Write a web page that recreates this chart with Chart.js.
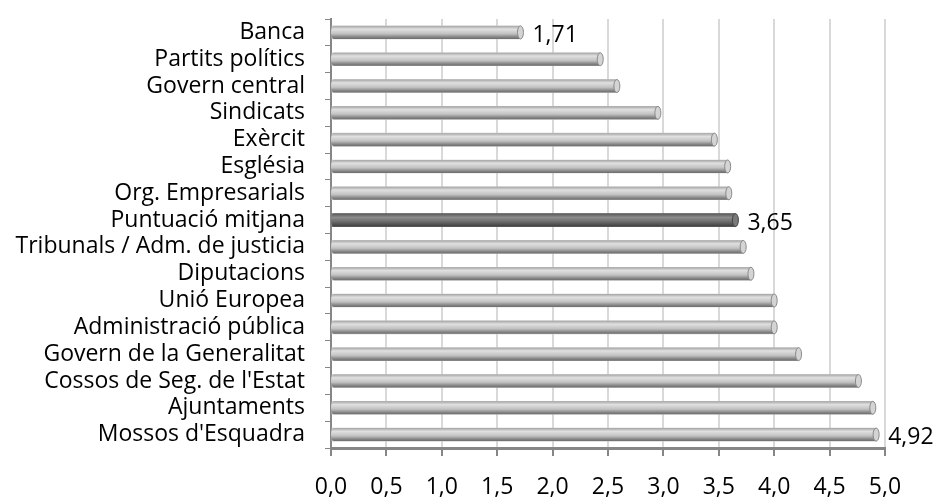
<!DOCTYPE html>
<html>
<head>
    <meta charset="UTF-8" />
    <script src="https://cdn.jsdelivr.net/npm/chart.js@4.4.0/dist/chart.umd.min.js"></script>
    <style>
        html, body { margin: 0; padding: 0; background: #fff; }
        #wrap { width: 937px; height: 498px; }
    </style>
</head>
<body>
    <div id="wrap"><canvas id="chart"></canvas></div>

    <script>
        // categories, top to bottom
        const categories = [
            'Banca', 'Partits polítics', 'Govern central', 'Sindicats', 'Exèrcit',
            'Església', 'Org. Empresarials', 'Puntuació mitjana', 'Tribunals / Adm. de justicia',
            'Diputacions', 'Unió Europea', 'Administració pública', 'Govern de la Generalitat',
            "Cossos de Seg. de l'Estat", 'Ajuntaments', "Mossos d'Esquadra"
        ];
        const scores = [1.71, 2.43, 2.58, 2.95, 3.46, 3.58, 3.59, 3.65, 3.72, 3.79, 4.00, 4.00, 4.22, 4.76, 4.89, 4.92];
        const labelled = ['Banca', 'Puntuació mitjana', "Mossos d'Esquadra"];
        const highlight = 'Puntuació mitjana';
        const xTicks = [0, 0.5, 1, 1.5, 2, 2.5, 3, 3.5, 4, 4.5, 5];

        const fontFamily = "'Open Sans', sans-serif";

        // cylinder look on top of the library's bar elements
        const tubes = {
            id: 'tubes',
            afterDatasetsDraw(chart) {
                const ctx = chart.ctx;
                const meta = chart.getDatasetMeta(0);
                meta.data.forEach((el, i) => {
                    const dark = categories[i] === highlight;
                    const x0 = el.base, x1 = el.x, h = el.height, top = el.y - h / 2;
                    const g = ctx.createLinearGradient(0, top, 0, top + h);
                    if (dark) {
                        g.addColorStop(0, '#5a5a5a');
                        g.addColorStop(0.3, '#8c8c8c');
                        g.addColorStop(0.6, '#6e6e6e');
                        g.addColorStop(1, '#3c3c3c');
                    } else {
                        g.addColorStop(0, '#a4a4a4');
                        g.addColorStop(0.25, '#e0e0e0');
                        g.addColorStop(0.6, '#c2c2c2');
                        g.addColorStop(0.85, '#868686');
                        g.addColorStop(1, '#6c6c6c');
                    }
                    ctx.save();
                    ctx.fillStyle = g;
                    ctx.beginPath();
                    ctx.ellipse(x0 + 2, el.y, 3, h / 2, 0, Math.PI / 2, Math.PI * 1.5);
                    ctx.lineTo(x1, top);
                    ctx.lineTo(x1, top + h);
                    ctx.closePath();
                    ctx.fill();
                    // end cap
                    ctx.beginPath();
                    ctx.ellipse(x1, el.y, 3, h / 2, 0, 0, Math.PI * 2);
                    ctx.fillStyle = dark ? '#7a7a7a' : '#d4d4d4';
                    ctx.fill();
                    ctx.lineWidth = 1;
                    ctx.strokeStyle = dark ? '#444' : '#8a8a8a';
                    ctx.stroke();
                    ctx.restore();

                    if (labelled.includes(categories[i])) {
                        ctx.save();
                        ctx.fillStyle = '#000';
                        ctx.font = '23px ' + fontFamily;
                        ctx.textAlign = 'left';
                        ctx.textBaseline = 'middle';
                        ctx.fillText(scores[i].toFixed(2).replace('.', ','), x1 + 12, el.y + 3);
                        ctx.restore();
                    }
                });
            }
        };

        const ctx = document.getElementById('chart').getContext('2d');
        const myChart = new Chart(ctx, {
            type: 'bar',
            data: {
                labels: categories,
                datasets: [{
                    data: scores,
                    backgroundColor: categories.map(c => c === highlight ? '#6e6e6e' : '#c8c8c8'),
                    borderWidth: 0,
                    barThickness: 13
                }]
            },
            options: {
                indexAxis: 'y',
                responsive: true,
                maintainAspectRatio: false,
                animation: false,
                layout: { padding: { top: 19, right: 52, left: 0, bottom: 0 } },
                plugins: {
                    legend: { display: false },
                    tooltip: { enabled: false }
                },
                scales: {
                    x: {
                        min: 0,
                        max: 5,
                        afterBuildTicks(scale) {
                            scale.ticks = xTicks.map(v => ({ value: v }));
                        },
                        afterFit(scale) {
                            scale.height = 50;
                            scale.paddingLeft = 0;
                            scale.paddingRight = 0;
                        },
                        grid: {
                            color: '#d9d9d9',
                            lineWidth: 2,
                            tickColor: '#868686',
                            tickLength: 8
                        },
                        border: { color: '#868686', width: 3 },
                        ticks: {
                            color: '#000',
                            padding: 18,
                            font: { family: fontFamily, size: 23 },
                            maxRotation: 0,
                            callback: v => v.toFixed(1).replace('.', ',')
                        }
                    },
                    y: {
                        afterFit(scale) {
                            scale.width = 331;
                            scale.paddingTop = 0;
                            scale.paddingBottom = 0;
                        },
                        grid: {
                            offset: true,
                            drawOnChartArea: false,
                            color: '#868686',
                            tickLength: 6
                        },
                        border: { color: '#868686', width: 2 },
                        ticks: {
                            color: '#000',
                            padding: 20,
                            autoSkip: false,
                            font: { family: fontFamily, size: 23 }
                        }
                    }
                }
            },
            plugins: [tubes]
        });
    </script>
</body>
</html>
